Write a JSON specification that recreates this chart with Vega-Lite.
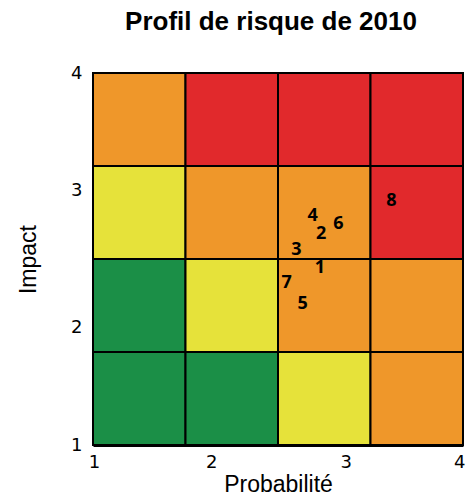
{
  "$schema": "https://vega.github.io/schema/vega-lite/v6.json",
  "width": 370,
  "height": 372,
  "autosize": "none",
  "padding": {"left": 93, "top": 73, "right": 4, "bottom": 57},
  "background": "white",
  "config": {"view": {"stroke": null}},
  "title": {"text": "Profil de risque de 2010", "font": "Liberation Sans", "fontSize": 26, "fontWeight": "bold", "color": "black", "offset": 29, "dx": -7},
  "datasets": {
    "cells": [
      {"x1": 1, "x2": 1.75, "y1": 3.25, "y2": 4, "risk": "orange"},
      {"x1": 1.75, "x2": 2.5, "y1": 3.25, "y2": 4, "risk": "red"},
      {"x1": 2.5, "x2": 3.25, "y1": 3.25, "y2": 4, "risk": "red"},
      {"x1": 3.25, "x2": 4, "y1": 3.25, "y2": 4, "risk": "red"},
      {"x1": 1, "x2": 1.75, "y1": 2.5, "y2": 3.25, "risk": "yellow"},
      {"x1": 1.75, "x2": 2.5, "y1": 2.5, "y2": 3.25, "risk": "orange"},
      {"x1": 2.5, "x2": 3.25, "y1": 2.5, "y2": 3.25, "risk": "orange"},
      {"x1": 3.25, "x2": 4, "y1": 2.5, "y2": 3.25, "risk": "red"},
      {"x1": 1, "x2": 1.75, "y1": 1.75, "y2": 2.5, "risk": "green"},
      {"x1": 1.75, "x2": 2.5, "y1": 1.75, "y2": 2.5, "risk": "yellow"},
      {"x1": 2.5, "x2": 3.25, "y1": 1.75, "y2": 2.5, "risk": "orange"},
      {"x1": 3.25, "x2": 4, "y1": 1.75, "y2": 2.5, "risk": "orange"},
      {"x1": 1, "x2": 1.75, "y1": 1, "y2": 1.75, "risk": "green"},
      {"x1": 1.75, "x2": 2.5, "y1": 1, "y2": 1.75, "risk": "green"},
      {"x1": 2.5, "x2": 3.25, "y1": 1, "y2": 1.75, "risk": "yellow"},
      {"x1": 3.25, "x2": 4, "y1": 1, "y2": 1.75, "risk": "orange"}
    ],
    "risks": [
      {"id": "1", "p": 2.84, "i": 2.43},
      {"id": "2", "p": 2.85, "i": 2.70},
      {"id": "3", "p": 2.65, "i": 2.57},
      {"id": "4", "p": 2.78, "i": 2.85},
      {"id": "5", "p": 2.70, "i": 2.14},
      {"id": "6", "p": 2.99, "i": 2.78},
      {"id": "7", "p": 2.57, "i": 2.31},
      {"id": "8", "p": 3.42, "i": 2.97}
    ]
  },
  "layer": [
    {
      "data": {"name": "cells"},
      "mark": {"type": "rect", "stroke": "black", "strokeWidth": 2},
      "encoding": {
        "x": {"field": "x1", "type": "quantitative", "scale": {"domain": [1, 4], "nice": false, "zero": false},
          "axis": {"values": [1, 2, 3, 4], "format": "d", "grid": false, "ticks": false, "domainColor": "black", "domainWidth": 3, "labelPadding": 8, "labelFont": "DejaVu Sans", "labelFontSize": 18, "labelColor": "black",
            "labelAlign": {"condition": {"test": "datum.value == 4", "value": "right"}, "value": "center"},
            "labelOffset": {"condition": [{"test": "datum.value == 2", "value": -5}, {"test": "datum.value == 3", "value": 6}, {"test": "datum.value == 4", "value": 2}], "value": 1},
            "title": "Probabilité", "titleFont": "Liberation Sans", "titleFontSize": 23, "titleFontWeight": "normal", "titleColor": "black", "titlePadding": 2, "labelFlush": false}},
        "x2": {"field": "x2"},
        "y": {"field": "y1", "type": "quantitative", "scale": {"domain": [1, 4], "nice": false, "zero": false},
          "axis": {"values": [1, 2, 3, 4], "format": "d", "grid": false, "ticks": false, "domainColor": "black", "domainWidth": 3, "labelPadding": 11, "labelFont": "DejaVu Sans", "labelFontSize": 18, "labelColor": "black",
            "labelOffset": {"condition": [{"test": "datum.value == 3", "value": -7}, {"test": "datum.value == 2", "value": 6}], "value": 0},
            "title": "Impact", "titleFont": "Liberation Sans", "titleFontSize": 23, "titleFontWeight": "normal", "titleColor": "black", "titlePadding": 30, "labelFlush": false}},
        "y2": {"field": "y2"},
        "color": {"field": "risk", "type": "nominal", "legend": null,
          "scale": {"domain": ["green", "yellow", "orange", "red"], "range": ["#1B8F47", "#E6E23A", "#EF972A", "#E1292C"]}}
      }
    },
    {
      "data": {"name": "risks"},
      "mark": {"type": "text", "font": "Open Sans", "fontSize": 18, "fontWeight": "bold", "color": "black"},
      "encoding": {
        "x": {"field": "p", "type": "quantitative"},
        "y": {"field": "i", "type": "quantitative"},
        "text": {"field": "id"}
      }
    }
  ]
}
